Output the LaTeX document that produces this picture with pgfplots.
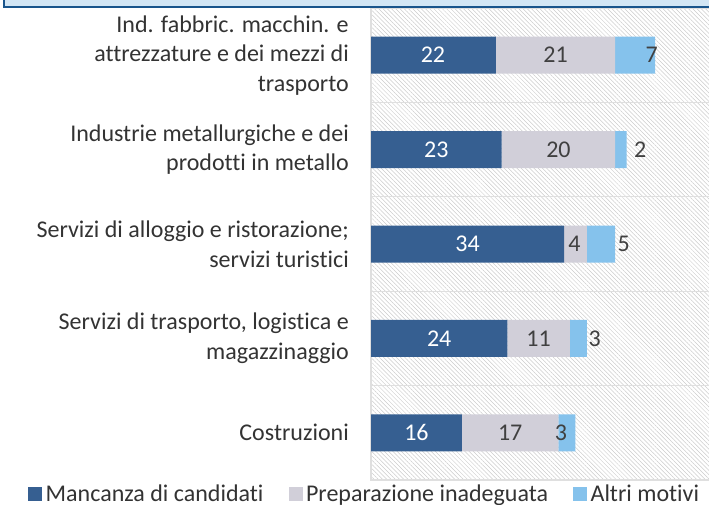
\documentclass[border=0pt]{standalone}
\usepackage{fontspec}
\setmainfont{Carlito}[Ligatures=NoCommon]
\usepackage{pgfplots}
\pgfplotsset{compat=1.18}
\usetikzlibrary{patterns.meta}
\definecolor{cDark}{RGB}{54,95,145}
\definecolor{cGray}{RGB}{209,207,217}
\definecolor{cLight}{RGB}{133,194,236}
\definecolor{bandBlue}{RGB}{210,230,245}
\definecolor{frameBlue}{RGB}{25,85,140}
\definecolor{txt}{RGB}{64,64,64}
\begin{document}
\begin{tikzpicture}[x=1pt,y=1pt]
\path[use as bounding box] (0,0) rectangle (709,504);
\begin{axis}[
 at={(371pt,24pt)}, anchor=south west,
 scale only axis, width=340pt, height=472pt,
 xbar stacked, bar width=37pt,
 xmin=0, xmax=59.86, ymin=-0.5, ymax=4.5, y dir=reverse,
 xtick=\empty,
 ytick={0,1,2,3,4},
 yticklabels={{Ind. fabbric. macchin. e\\attrezzature e dei mezzi di\\trasporto},
   {Industrie metallurgiche e dei\\prodotti in metallo},
   {Servizi di alloggio e ristorazione;\\servizi turistici},
   {Servizi di trasporto, logistica e\\magazzinaggio},
   {Costruzioni}},
 minor ytick={0.5,1.5,2.5,3.5},
 yminorgrids, minor grid style={gray!25, line width=1.2pt},
 major tick length=0pt, minor tick length=0pt,
 axis line style={draw=gray!25, line width=1.2pt},
 axis background/.style={pattern={Lines[angle=-45,distance=3pt,line width=0.5pt]}, pattern color=gray!40},
 yticklabel style={align=right, font=\fontsize{24}{29.5}\selectfont, text=black!80, inner sep=0pt, xshift=-22pt},
 legend style={at={(-1.0088,-0.0297)}, anchor=west, legend columns=3, draw=none, fill=none,
   font=\fontsize{24}{29}\selectfont, text=black!80, inner sep=0pt,
   nodes={inner sep=2pt},
   /tikz/every odd column/.append style={column sep=1.5pt},
   /tikz/every even column/.append style={column sep=23pt}},
 legend image code/.code={\fill[#1] (0pt,-7pt) rectangle (14pt,7pt);},
 legend cell align=left,
]
\addplot[fill=cDark, draw=none] coordinates {(22,0) (23,1) (34,2) (24,3) (16,4)};
\addplot[fill=cGray, draw=none] coordinates {(21,0) (20,1) (4,2) (11,3) (17,4)};
\addplot[fill=cLight, draw=none] coordinates {(7,0) (2,1) (5,2) (3,3) (3,4)};
\legend{Mancanza di candidati, Preparazione inadeguata, Altri motivi}
\end{axis}
\begin{axis}[
 at={(371pt,24pt)}, anchor=south west,
 scale only axis, width=340pt, height=472pt,
 xmin=0, xmax=59.86, ymin=-0.5, ymax=4.5, y dir=reverse,
 hide axis, clip=false,
 nodes near coords, point meta=explicit symbolic,
 every node near coord/.append style={anchor=center, font=\fontsize{24}{29}\selectfont, inner sep=0pt},
]
\addplot[draw=none, mark=none, nodes near coords style={text=white}] coordinates {(10.9,0) [22] (11.5,1) [23] (17,2) [34] (12,3) [24] (8,4) [16]};
\addplot[draw=none, mark=none, nodes near coords style={text=txt}] coordinates {(32.5,0) [21] (33,1) [20] (35.8,2) [4] (29.5,3) [11] (24.5,4) [17]};
\addplot[draw=none, mark=none, nodes near coords style={text=txt}] coordinates {(49.4,0) [7] (47.4,1) [2] (44.5,2) [5] (39.4,3) [3] (33.45,4) [3]};
\end{axis}
\fill[bandBlue] (3.5,504) rectangle (709,497);
\draw[frameBlue, line width=2pt] (3.5,505) -- (3.5,496.5) -- (710,496.5);
\end{tikzpicture}
\end{document}
